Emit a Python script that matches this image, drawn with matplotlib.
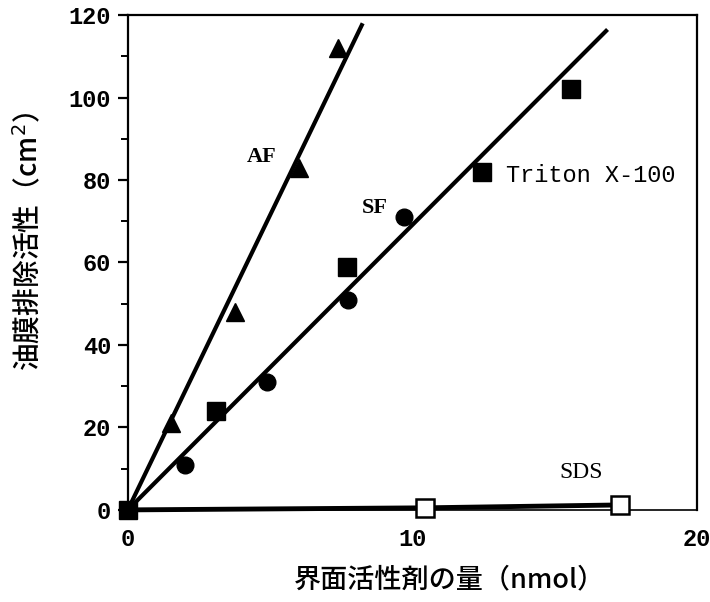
import matplotlib
matplotlib.use("Agg")
import matplotlib.pyplot as plt
import numpy as np

plt.rcParams['font.family'] = ['Noto Sans CJK JP', 'DejaVu Sans']

# Measured points: surfactant amount (nmol) vs oil-displacement area (cm2)
af_x = [0, 1.5, 3.75, 6.0, 7.4]
af_y = [0, 21, 48, 83, 112]
sf_x = [2.0, 4.9, 7.75, 9.7]
sf_y = [11, 31, 51, 71]
triton_x = [0, 3.1, 7.7, 12.45, 15.55]
triton_y = [0, 24, 59, 82, 102]
sds_x = [0, 10.45, 17.3]
sds_y = [0, 0.5, 1.2]

# Fitted lines (end points of each regression line)
af_fit_x = [0, 8.25]
af_fit_y = [0, 118]
sf_fit_x = [0, 16.85]
sf_fit_y = [0, 116.5]

fig = plt.figure(figsize=(7.10, 6.02), dpi=100)
ax = fig.add_axes([0.180, 0.153, 0.802, 0.822])

lw = 3.0
ax.plot(af_fit_x, af_fit_y, color='black', lw=lw, solid_capstyle='butt', zorder=2)
ax.plot(sf_fit_x, sf_fit_y, color='black', lw=lw, solid_capstyle='butt', zorder=2)
ax.plot(sds_x, sds_y, color='black', lw=3.5, zorder=2, clip_on=False)

ax.plot(af_x[1:], af_y[1:], linestyle='none', marker='^', ms=13, color='black', zorder=3)
ax.plot(sf_x, sf_y, linestyle='none', marker='o', ms=12, color='black', zorder=3)
ax.plot(triton_x, triton_y, linestyle='none', marker='s', ms=13, color='black',
        zorder=5, clip_on=False)
ax.plot(sds_x[1:], sds_y[1:], linestyle='none', marker='s', ms=13,
        markerfacecolor='white', markeredgecolor='black', markeredgewidth=1.8,
        zorder=4, clip_on=False)

ax.set_xlim(0, 20)
ax.set_ylim(0, 120)

serif = 'Liberation Serif'
ax.text(4.71, 85.6, 'AF', fontsize=16, fontweight='bold', family=serif, ha='center', va='center')
ax.text(8.68, 73.2, 'SF', fontsize=16, fontweight='bold', family=serif, ha='center', va='center')
ax.text(13.3, 81, 'Triton X-100', fontsize=17, family='Liberation Mono', ha='left', va='center')
ax.text(15.92, 9.0, 'SDS', fontsize=17, family=serif, ha='center', va='center')

for s in ax.spines.values():
    s.set_linewidth(1.6)
ax.spines['bottom'].set_linewidth(1.2)

ax.set_yticks(np.arange(0, 121, 20))
ax.set_yticks(np.arange(10, 120, 20), minor=True)
ax.set_xticks([0, 10, 20])
ax.tick_params(axis='y', which='major', direction='out', length=7, width=1.6, pad=5)
ax.tick_params(axis='y', which='minor', direction='out', length=5, width=1.4)
ax.tick_params(axis='x', which='major', direction='out', length=0, pad=13)
ax.tick_params(right=False, top=False)

for lab in ax.get_xticklabels() + ax.get_yticklabels():
    lab.set_family('Liberation Mono')
    lab.set_fontweight('bold')
    lab.set_fontsize(17)

ax.set_xlabel('界面活性剤の量（nmol）', fontsize=19.5, fontweight='medium')
ax.set_ylabel('油膜排除活性（cm$^2$）', fontsize=20, fontweight='medium')
ax.yaxis.set_label_coords(-0.175, 0.543)
ax.xaxis.set_label_coords(0.565, -0.142)
ax.xaxis.label.set_va('center')
ax.yaxis.label.set_va('center')

fig.savefig('out.png', dpi=100)
